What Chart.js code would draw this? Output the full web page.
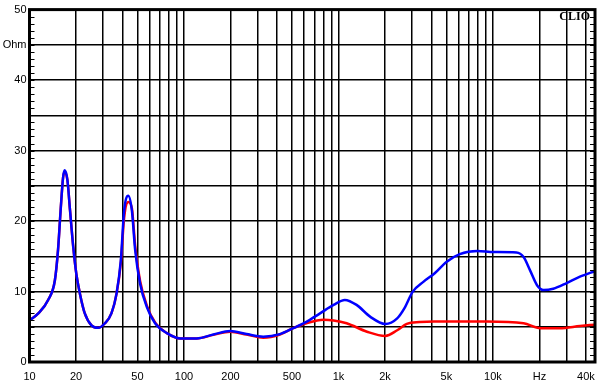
<!DOCTYPE html>
<html>
<head>
<meta charset="utf-8">
<script src="https://cdn.jsdelivr.net/npm/chart.js@4/dist/chart.umd.min.js"></script>
<style>
  html, body { margin: 0; padding: 0; background: #fff; }
  #wrap { width: 603px; height: 388px; }
</style>
</head>
<body>
<div id="wrap"><canvas id="impChart" width="603" height="388"></canvas></div>
<script>
/*
    Impedance curve, log frequency axis
*/
var freqBlue = [10, 11.4, 13.2, 14.6, 15.3, 15.9, 16.5, 16.9, 17.6, 18.3, 19.2, 20.1, 21.2, 22.8, 25.2, 27.8, 30.8, 33.9, 36.6, 39, 41, 43.6, 46, 48.3, 52, 57.5, 65, 77.5, 94.5, 121, 155, 199, 254, 326, 418, 510, 620, 760, 930, 1100, 1310, 1610, 2010, 2400, 2700, 3020, 3560, 4200, 5000, 6100, 7950, 10100, 14200, 15800, 17400, 19300, 21300, 24600, 30000, 36600, 45800];
var ohmBlue = [5.9, 6.9, 8.8, 11.6, 15.9, 21.5, 26.2, 27.2, 25.8, 21.5, 16.3, 12.5, 9.7, 6.9, 5.2, 4.85, 5.5, 6.9, 9.7, 14.4, 21.5, 23.6, 21.5, 15.9, 11.1, 7.8, 5.5, 4.1, 3.35, 3.35, 3.9, 4.4, 3.96, 3.6, 3.96, 4.8, 5.7, 6.9, 8.1, 8.8, 8.1, 6.4, 5.4, 6.2, 7.8, 9.95, 11.4, 12.6, 14.2, 15.3, 15.75, 15.6, 15.55, 14.9, 13.0, 10.9, 10.2, 10.4, 11.2, 12.1, 12.9];

var freqRed = [10, 11.4, 13.2, 14.6, 15.3, 15.9, 16.5, 16.9, 17.6, 18.3, 19.2, 20.1, 21.2, 22.8, 25.2, 27.8, 30.8, 33.9, 36.6, 39, 41, 43.6, 46, 48.3, 52, 57.5, 65, 77.5, 94.5, 121, 155, 199, 254, 326, 418, 510, 620, 800, 930, 1130, 1530, 2010, 2400, 2770, 3360, 4140, 9100, 15800, 20300, 27100, 36600, 45800];
var ohmRed = [5.9, 6.9, 8.8, 11.6, 15.9, 21.5, 26.2, 27.0, 25.8, 21.5, 16.3, 12.5, 9.7, 6.9, 5.2, 4.85, 5.5, 6.9, 9.7, 14.0, 20.5, 22.7, 21.8, 16.5, 11.5, 8.0, 5.6, 4.1, 3.35, 3.35, 3.85, 4.3, 3.9, 3.45, 3.9, 4.8, 5.5, 6.0, 5.9, 5.5, 4.3, 3.7, 4.5, 5.4, 5.66, 5.76, 5.76, 5.5, 4.8, 4.8, 5.1, 5.3];

// x gridlines and labels
var freqTicks = [10, 20, 30, 40, 50, 60, 70, 80, 90, 100, 200, 300, 400, 500, 600, 700, 800, 900,
                 1000, 2000, 3000, 4000, 5000, 6000, 7000, 8000, 9000, 10000, 20000, 30000, 40000];
var freqLabels = {10: '10', 20: '20', 50: '50', 100: '100', 200: '200', 500: '500', 1000: '1k',
                  2000: '2k', 5000: '5k', 10000: '10k', 20000: 'Hz', 40000: '40k'};
var ohmLabels = {0: '0', 10: '10', 20: '20', 30: '30', 40: '40', 45: 'Ohm', 50: '50'};

function pts(xs, ys) {
    return xs.map(function (x, i) { return {x: x, y: ys[i]}; });
}

var framePlugin = {
    id: 'frame',
    afterDraw: function (chart) {
        var ctx = chart.ctx, a = chart.chartArea, y = chart.scales.y;
        ctx.save();
        ctx.strokeStyle = '#000';
        ctx.lineWidth = 1;
        ctx.beginPath();
        for (var v = 0; v <= 50; v++) {
            var py = Math.round(y.getPixelForValue(v)) + 0.5;
            ctx.moveTo(a.left, py); ctx.lineTo(a.left + 5, py);
            ctx.moveTo(a.right - 5, py); ctx.lineTo(a.right, py);
        }
        ctx.stroke();
        ctx.lineWidth = 3;
        ctx.strokeRect(a.left, a.top, a.right - a.left, a.bottom - a.top);
        ctx.fillStyle = '#000';
        ctx.font = 'bold 12px "Liberation Serif"';
        ctx.textAlign = 'right';
        ctx.textBaseline = 'middle';
        ctx.fillText('CLIO', a.right - 5, a.top + 7);
        ctx.restore();
    }
};

var ctx = document.getElementById('impChart').getContext('2d');
var chart = new Chart(ctx, {
    type: 'line',
    data: {
        datasets: [{
            data: pts(freqBlue, ohmBlue),
            borderColor: '#0000ff',
            borderWidth: 2.5,
            pointRadius: 0,
            cubicInterpolationMode: 'monotone',
            order: 0
        }, {
            data: pts(freqRed, ohmRed),
            borderColor: '#ff0000',
            borderWidth: 2.5,
            pointRadius: 0,
            cubicInterpolationMode: 'monotone',
            order: 1
        }]
    },
    options: {
        responsive: false,
        animation: false,
        layout: { padding: { top: 9, right: 8, left: 0, bottom: 0 } },
        plugins: { legend: { display: false }, tooltip: { enabled: false } },
        scales: {
            x: {
                type: 'logarithmic',
                min: 10,
                max: 45800,
                afterBuildTicks: function (s) {
                    s.ticks = freqTicks.map(function (v) { return {value: v}; });
                },
                afterFit: function (s) { s.height = 26; },
                grid: { color: '#000', lineWidth: 1.5, drawTicks: false },
                border: { display: false },
                ticks: {
                    autoSkip: false,
                    maxRotation: 0,
                    padding: 8,
                    color: '#000',
                    font: { family: '"Liberation Sans"', size: 11 },
                    callback: function (v) { return freqLabels[v] || ''; }
                }
            },
            y: {
                min: 0,
                max: 50,
                afterFit: function (s) { s.width = 29.5; },
                grid: { color: '#000', lineWidth: 1.5, drawTicks: false },
                border: { display: false },
                ticks: {
                    stepSize: 5,
                    padding: 3,
                    color: '#000',
                    font: { family: '"Liberation Sans"', size: 11 },
                    callback: function (v) { return ohmLabels[v] !== undefined ? ohmLabels[v] : ''; }
                }
            }
        }
    },
    plugins: [framePlugin]
});
</script>
</body>
</html>
